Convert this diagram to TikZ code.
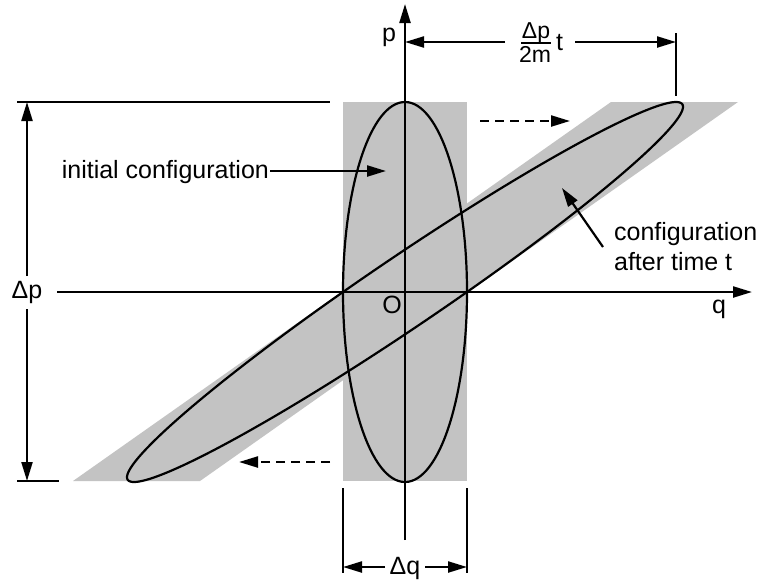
\documentclass[tikz,border=0pt]{standalone}
\usepackage{fontspec}
\setmainfont{Liberation Sans}
\usetikzlibrary{arrows.meta}
\definecolor{regiongray}{RGB}{195,195,195}
\begin{document}
\begin{tikzpicture}[x=1pt,y=-1pt, line width=2.2pt,
  tip/.style={-{Triangle[length=19pt,width=11pt]}},
  lbl/.style={font=\fontsize{25}{29}\selectfont, inner sep=0pt},
  frac/.style={font=\fontsize{23}{26}\selectfont, inner sep=0pt},
  dsh/.style={dash pattern=on 9pt off 6pt}]
\useasboundingbox (0,0) rectangle (762,581);
% shaded regions
\fill[regiongray] (73,481) -- (200,481) -- (738,102) -- (611,102) -- cycle;
\fill[regiongray] (343,102) rectangle (467,481);
% ellipses
\draw (405,292) ellipse [x radius=62, y radius=190];
\draw plot[domain=0:360, samples=240, smooth cycle, variable=\t]
  ({405+62*cos(\t)-271*sin(\t)},{292+190*sin(\t)});
% axes
\coordinate (qs) at (57,292);
\coordinate (qe) at (752,292);
\coordinate (ps) at (405,540);
\coordinate (pe) at (405,4);
\draw[tip] (qs) -- (qe);
\draw[tip] (ps) -- (pe);
\node[lbl, anchor=base] (plab) at (389,41) {p};
\node[lbl, anchor=base] (qlab) at (719,313) {q};
\node[lbl, anchor=base] (olab) at (392,313) {O};
% Delta p dimension
\coordinate (tl1) at (17,102);
\coordinate (tl2) at (330,102);
\coordinate (bl1) at (17,481);
\coordinate (bl2) at (59,481);
\draw (tl1) -- (tl2);
\draw (bl1) -- (bl2);
\node[lbl, anchor=base] (dp) at (27,298) {Δp};
\coordinate (dpt) at (27,102);
\coordinate (dpb) at (27,481);
\draw[tip] (27,276) -- (dpt);
\draw[tip] (27,309) -- (dpb);
% top dimension
\coordinate (tk1) at (676,33);
\coordinate (tk2) at (676,96);
\draw (tk1) -- (tk2);
\coordinate (da) at (405,42);
\coordinate (db) at (676,42);
\draw[tip] (505,42) -- (da);
\draw[tip] (575,42) -- (db);
\node[frac, anchor=base] (num) at (536,38) {Δp};
\node[frac, anchor=base] (den) at (535,62) {2m};
\draw[line width=1.6pt] (521,43) -- (551,43);
\node[lbl, anchor=base west] (tt) at (555,50) {t};
% Delta q dimension
\coordinate (ql1) at (343,488);
\coordinate (ql2) at (343,573);
\coordinate (qr1) at (467,488);
\coordinate (qr2) at (467,573);
\draw (ql1) -- (ql2);
\draw (qr1) -- (qr2);
\node[lbl, anchor=base] (dq) at (405,574) {Δq};
\draw[tip] (385,567) -- (343,567);
\draw[tip] (425,567) -- (467,567);
% dashed motion arrows
\coordinate (m1) at (480,121);
\coordinate (m2) at (570,121);
\coordinate (m3) at (330,462);
\coordinate (m4) at (239,462);
\draw[tip, dsh] (m1) -- (m2);
\draw[tip, dsh] (m3) -- (m4);
% labels with pointers
\node[lbl, anchor=base east] (init) at (270,178) {initial configuration};
\coordinate (initp) at (386,171);
\draw[tip] (init.east |- initp) -- (initp);
\node[lbl, anchor=base west] (c1) at (613,240) {configuration};
\node[lbl, anchor=base west] (c2) at (613,270) {after time t};
\coordinate (ap1) at (603,247);
\coordinate (ap2) at (562,188);
\draw[tip] (ap1) -- (ap2);
\end{tikzpicture}
\end{document}
